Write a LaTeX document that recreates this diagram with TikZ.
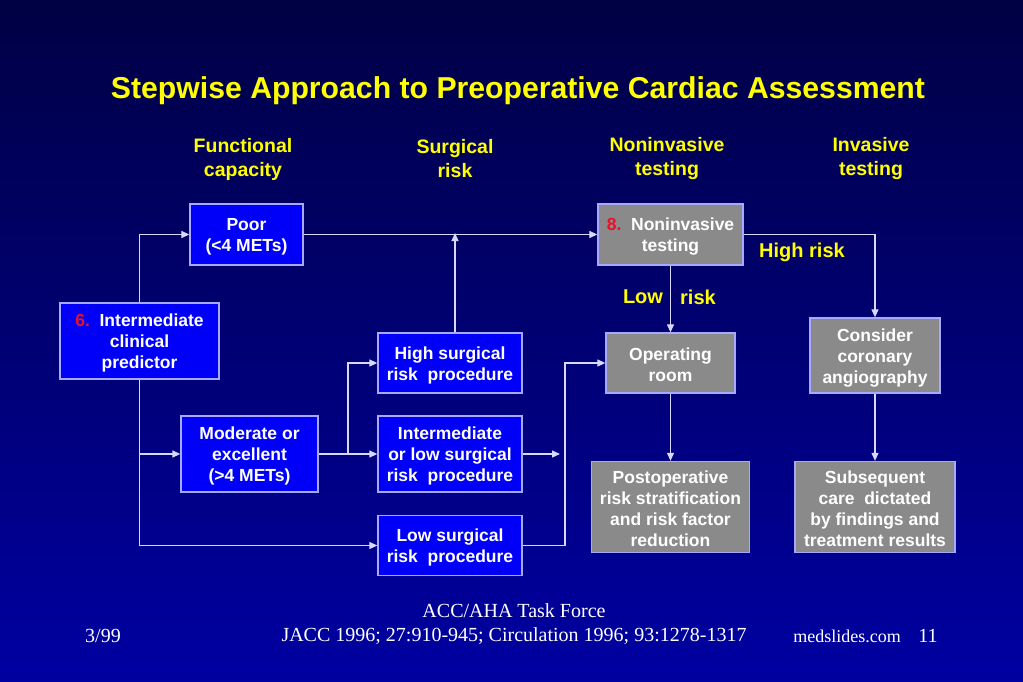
\documentclass[tikz,border=0pt]{standalone}
\usepackage{fontspec}
\setmainfont{Liberation Sans}
\newfontfamily\seriffont{Liberation Serif}
\usetikzlibrary{arrows.meta,calc}
\definecolor{bgtop}{HTML}{000044}
\definecolor{bgbot}{HTML}{0000A2}
\definecolor{boxblue}{HTML}{0000F8}
\definecolor{boxgrey}{HTML}{8A8A8A}
\definecolor{edgecol}{HTML}{A8A8FF}
\definecolor{wire}{HTML}{D8D8FF}
\definecolor{ttl}{HTML}{FFFF00}
\definecolor{numred}{HTML}{E8102A}
\newcommand\tp{\rule{0pt}{17pt}}
\begin{document}
\begin{tikzpicture}[x=1pt,y=-1pt,
 bluebox/.style={draw=edgecol, line width=1.3pt, fill=boxblue, text=white,
   font=\bfseries\fontsize{17.5}{21}\selectfont, align=center, inner sep=0pt},
 greybox/.style={bluebox, fill=boxgrey},
 wireline/.style={draw=wire, line width=1.2pt},
 arr/.style={wireline, -{Triangle[length=8pt,width=7pt]}},
 head/.style={text=ttl, font=\bfseries\fontsize{19.5}{24}\selectfont, align=center},
 lab/.style={text=ttl, font=\bfseries\fontsize{20}{24}\selectfont},
 foot/.style={text=white, font=\seriffont\fontsize{20}{25}\selectfont, align=center},
]
\useasboundingbox (0,0) rectangle (1023,682);
\shade[top color=bgtop, bottom color=bgbot] (0,0) rectangle (1023,682);

\node[text=ttl, font=\bfseries\fontsize{30.2}{36}\selectfont] (title) at (518,91) {Stepwise Approach to Preoperative Cardiac Assessment};

\node[head] (h1) at (243,159) {Functional\\capacity};
\node[head] (h2) at (455,159) {Surgical\\risk};
\node[head] (h3) at (667,159) {Noninvasive\\testing};
\node[head] (h4) at (871,159) {Invasive\\testing};

\node[bluebox, minimum width=159pt, minimum height=76pt] (icp) at (139.5,341) {\tp\textcolor{numred}{6.}\ \ Intermediate\\clinical\\predictor};
\node[bluebox, minimum width=113pt, minimum height=61pt] (poor) at (246.5,234.5) {\tp Poor\\(<4 METs)};
\node[bluebox, minimum width=137pt, minimum height=76pt] (mod) at (249.5,454) {\tp Moderate or\\excellent\\(>4 METs)};
\node[bluebox, minimum width=144pt, minimum height=60pt] (high) at (450,363) {\tp High surgical\\risk\ \ procedure};
\node[bluebox, minimum width=144pt, minimum height=76pt] (inter) at (450,454) {\tp Intermediate\\or low surgical\\risk\ \ procedure};
\node[bluebox, minimum width=144pt, minimum height=60pt] (low) at (450,545.5) {\tp Low surgical\\risk\ \ procedure};
\node[greybox, minimum width=145pt, minimum height=61pt] (nit) at (670.5,234.5) {\tp\textcolor{numred}{8.}\ \ Noninvasive\\testing};
\node[greybox, minimum width=129pt, minimum height=60pt] (or) at (670.5,363) {\tp Operating\\room};
\node[greybox, minimum width=130pt, minimum height=75pt] (cca) at (875,355.5) {\tp Consider\\coronary\\angiography};
\node[greybox, minimum width=158pt, minimum height=91pt] (postop) at (670.5,507) {\tp Postoperative\\risk stratification\\and risk factor\\reduction};
\node[greybox, minimum width=160pt, minimum height=91pt] (subs) at (875,507) {\tp Subsequent\\care\ \ dictated\\by findings and\\treatment results};

\coordinate (j) at ($(mod.east)!0.5!(inter.west)$);
\coordinate (ie) at (560,454);
\coordinate (k) at (565,545.5);

\draw[arr] (icp.north) |- (poor.west);
\draw[arr] (icp.south) |- (mod.west);
\draw[arr] (icp.south) |- (low.west);
\draw[arr] (poor.east) -- (nit.west);
\draw[arr] ([xshift=5pt]high.north) -- ([xshift=5pt,yshift=1.5pt]high.north |- poor.east);
\draw[arr] (mod.east) -- (inter.west);
\draw[arr] (j) |- (high.west);
\draw[arr] (inter.east) -- (ie);
\draw[arr] (low.east) -- (k) |- (or.west);
\draw[arr] (nit.south) -- (or.north);
\draw[arr] (nit.east) -| (cca.north);
\draw[arr] (or.south) -- (postop.north);
\draw[arr] (cca.south) -- (subs.north);

\node[lab] (lowl) at (643,297) {Low};
\node[lab] (riskl) at (698,297) {risk};
\node[lab] (hr) at (802,252) {High risk};

\node[foot] (f1) at (514,611) {ACC/AHA Task Force};
\node[foot] (f2) at (514,636) {JACC 1996; 27:910-945; Circulation 1996; 93:1278-1317};
\node[foot] (f3) at (103,636) {3/99};
\node[foot, font=\seriffont\fontsize{18}{25}\selectfont] (f4) at (847,636) {medslides.com};
\node[foot] (f5) at (928,636) {11};
\end{tikzpicture}
\end{document}
